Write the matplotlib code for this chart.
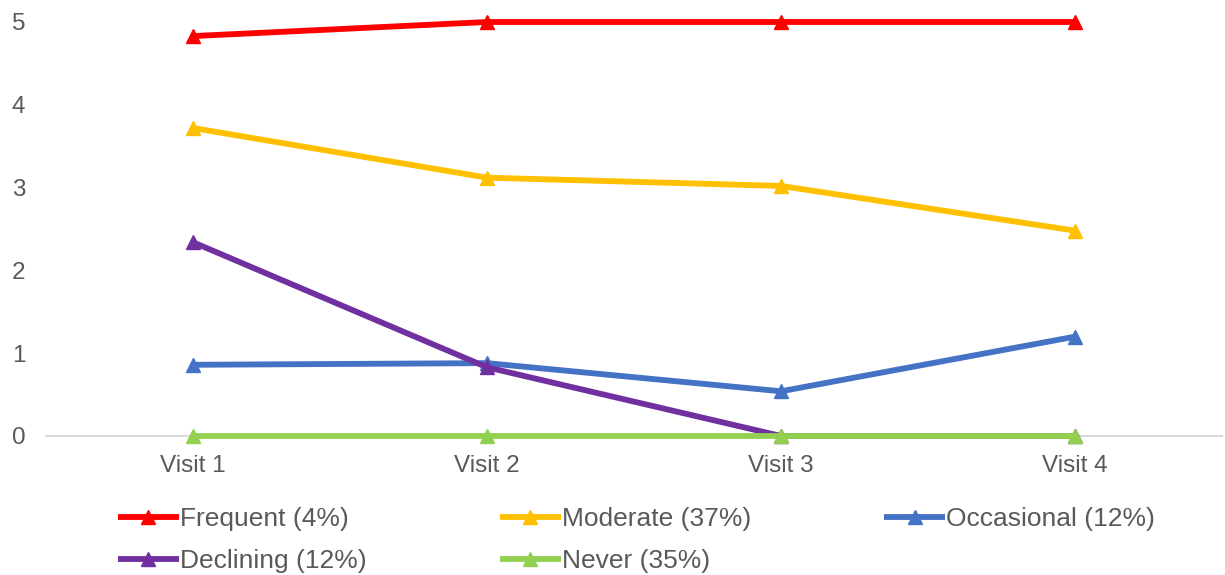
import matplotlib
matplotlib.use("Agg")
import matplotlib.pyplot as plt

categories = ["Visit 1", "Visit 2", "Visit 3", "Visit 4"]
series_names = ["Frequent (4%)", "Moderate (37%)", "Occasional (12%)", "Declining (12%)", "Never (35%)"]
frequent = [4.83, 5.0, 5.0, 5.0]
moderate = [3.72, 3.12, 3.02, 2.48]
occasional = [0.86, 0.88, 0.54, 1.20]
declining = [2.34, 0.83, 0.0, 0.0]
never = [0.0, 0.0, 0.0, 0.0]
colors = ["#FF0000", "#FFC000", "#4472C4", "#7030A0", "#92D050"]

plt.rcParams['font.family'] = ['Liberation Sans', 'DejaVu Sans']

fig = plt.figure(figsize=(12.25, 5.75), dpi=100)
ax = fig.add_axes([46/1225, 1 - 436/575, 1176/1225, (436 - 22)/575])

x = list(range(len(categories)))
lines = []
for name, vals, c in zip(series_names, [frequent, moderate, occasional, declining, never], colors):
    ln, = ax.plot(x, vals, color=c, lw=4.2, marker='^', markersize=10, label=name,
                  clip_on=False, solid_capstyle='butt', zorder=3)
    lines.append(ln)

ax.set_xlim(-0.5, 3.5)
ax.set_ylim(0, 5)
ax.set_yticks([0, 1, 2, 3, 4, 5])
ax.set_xticks(x)
ax.set_xticklabels(categories)
for s in ['top', 'right', 'left']:
    ax.spines[s].set_visible(False)
ax.spines['bottom'].set_color('#D9D9D9')
ax.spines['bottom'].set_linewidth(1.5)
ax.tick_params(axis='both', length=0, labelsize=17.5, labelcolor='#595959')
ax.tick_params(axis='y', pad=15)
ax.tick_params(axis='x', pad=14)

# row-major legend order for 3 columns
order = [0, 3, 1, 4, 2]
leg = fig.legend([lines[i] for i in order], [series_names[i] for i in order],
                 loc='upper left', bbox_to_anchor=(118/1225, 1 - 507/575), ncol=3,
                 frameon=False, fontsize=19, handlelength=2.3, handletextpad=0.05,
                 columnspacing=5.05, labelspacing=0.7, borderpad=0, borderaxespad=0)
for t in leg.get_texts():
    t.set_color('#595959')

fig.savefig("out.png", dpi=100)
